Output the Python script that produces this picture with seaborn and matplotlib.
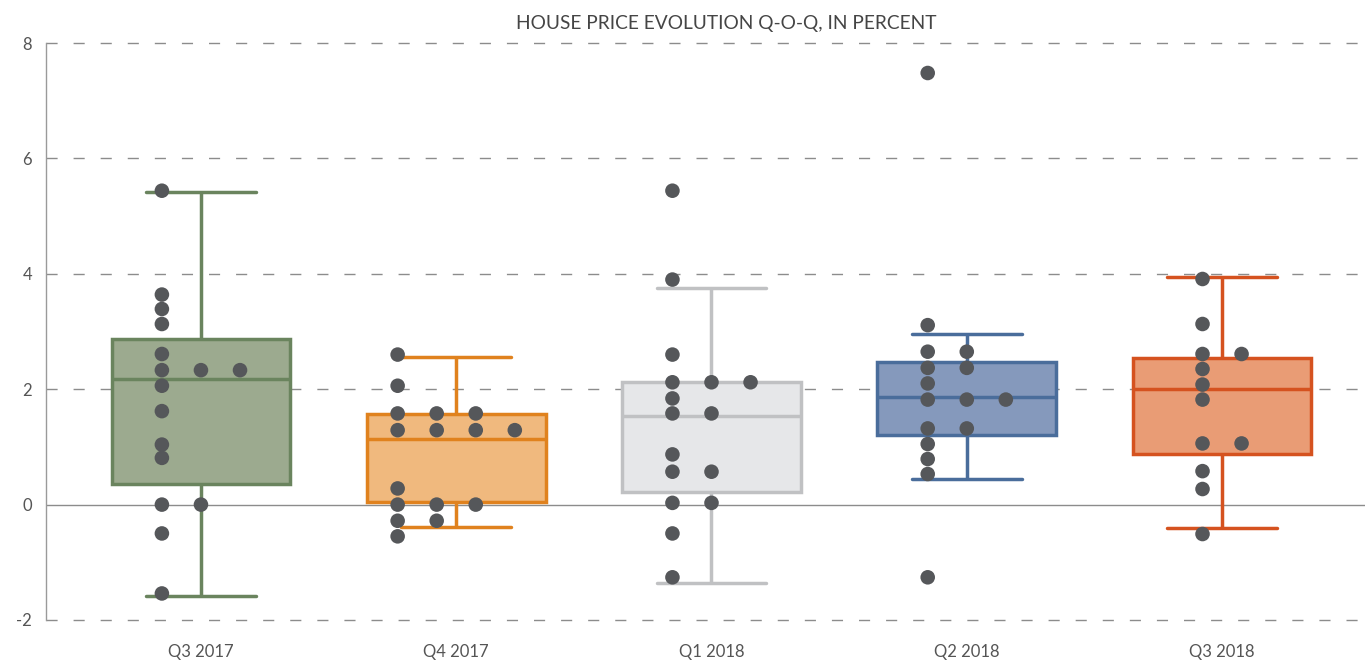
import numpy as np
import pandas as pd
import matplotlib
matplotlib.use("Agg")
import matplotlib.pyplot as plt
import seaborn as sns

# ---------------- data ----------------
categories = ["Q3 2017", "Q4 2017", "Q1 2018", "Q2 2018", "Q3 2018"]

# five-number summaries of each box (whisker low, Q1, median, Q3, whisker high)
box_low = [-1.59, -0.39, -1.36, 0.44, -0.41]
box_q1 = [0.36, 0.04, 0.22, 1.21, 0.88]
box_median = [2.17, 1.14, 1.54, 1.86, 2.00]
box_q3 = [2.87, 1.57, 2.13, 2.47, 2.54]
box_high = [5.41, 2.55, 3.75, 2.96, 3.95]

# individual (binned) observations per quarter
pts_q3_2017 = [5.44, 3.64, 3.39, 3.13, 2.61, 2.33, 2.33, 2.33, 2.06, 1.62,
               1.04, 0.81, 0.0, 0.0, -0.50, -1.54]
pts_q4_2017 = [2.60, 2.06, 1.58, 1.58, 1.58, 1.29, 1.29, 1.29, 1.29, 0.28,
               0.0, 0.0, 0.0, -0.28, -0.28, -0.55]
pts_q1_2018 = [5.44, 3.90, 2.60, 2.12, 2.12, 2.12, 1.84, 1.58, 1.58, 0.87,
               0.57, 0.57, 0.03, 0.03, -0.50, -1.26]
pts_q2_2018 = [7.48, 3.11, 2.65, 2.65, 2.37, 2.37, 2.10, 1.82, 1.82, 1.82,
               1.32, 1.32, 1.05, 0.79, 0.53, -1.26]
pts_q3_2018 = [3.91, 3.13, 2.61, 2.61, 2.35, 2.08, 1.82, 1.06, 1.06, 0.58,
               0.27, -0.51]
points = [pts_q3_2017, pts_q4_2017, pts_q1_2018, pts_q2_2018, pts_q3_2018]

fill_colors = ["#9caa8f", "#f0b97e", "#e6e7e9", "#8599bc", "#e99c75"]
edge_colors = ["#6a845e", "#e0821e", "#c0c1c3", "#4a6d9b", "#d5521f"]
title = "HOUSE PRICE EVOLUTION Q-O-Q, IN PERCENT"
yticks = [-2, 0, 2, 4, 6, 8]

# ---------------- tables ----------------
box_df = pd.DataFrame({
    "quarter": np.repeat(categories, 5),
    "value": np.ravel(np.column_stack([box_low, box_q1, box_median, box_q3, box_high])),
})

rows = []
step = 0.153
for i, (cat, vals) in enumerate(zip(categories, points)):
    vals = np.asarray(vals)
    uniq, counts = np.unique(vals, return_counts=True)
    m = counts.max()
    seen = {}
    for v in vals:
        j = seen.get(v, 0)
        seen[v] = j + 1
        rows.append({"quarter": cat, "xpos": i + (j - (m - 1) / 2) * step, "value": v})
pts_df = pd.DataFrame(rows)

# ---------------- plot ----------------
sns.set_theme(style="white")
plt.rcParams["font.family"] = ["Lato", "DejaVu Sans"]
plt.rcParams["axes.unicode_minus"] = False

fig = plt.figure(figsize=(13.65, 6.64), dpi=100)
ax = fig.add_axes([46 / 1365, 1 - 620 / 664, 1 - 46 / 1365, (620 - 43) / 664])

for cat, fc, ec in zip(categories, fill_colors, edge_colors):
    sns.boxplot(data=box_df[box_df["quarter"] == cat], x="quarter", y="value",
                order=categories, color=fc, linecolor=ec, linewidth=2.5,
                width=0.7, whis=(0, 100), showfliers=False, saturation=1,
                capwidths=0.43, ax=ax, zorder=2)

sns.scatterplot(data=pts_df, x="xpos", y="value", color="#55575a", s=110,
                edgecolor="none", ax=ax, zorder=4, legend=False)

ax.set_xlim(-0.607, 4.56)
ax.set_ylim(-2, 8)
ax.set_yticks(yticks)
ax.set_yticklabels([str(t) for t in yticks])
ax.set_xticks(range(len(categories)))
ax.set_xticklabels(categories)
ax.set_xlabel("")
ax.set_ylabel("")

for t in yticks:
    if t == 0:
        ax.axhline(t, color="#8c8c8c", lw=1.0, zorder=1)
    else:
        ax.axhline(t, color="#8c8c8c", lw=1.0, ls=(0, (8, 11.5)), zorder=1,
                   clip_on=False)

for s in ["top", "right", "bottom"]:
    ax.spines[s].set_visible(False)
ax.spines["left"].set_color("#9a9a9a")
ax.spines["left"].set_linewidth(1.0)

ax.tick_params(axis="y", length=0, pad=10, labelsize=12, labelcolor="#555555")
ax.tick_params(axis="x", length=0, pad=17, labelsize=12, labelcolor="#555555")

fig.text(726 / 1365, 1 - 23 / 664, title, ha="center", va="center",
         fontsize=13.8, color="#454545")

fig.savefig("out.png", dpi=100)
